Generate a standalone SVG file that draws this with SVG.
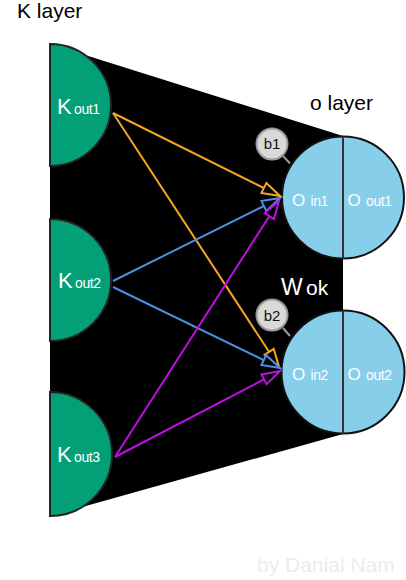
<svg xmlns="http://www.w3.org/2000/svg" width="406" height="580" viewBox="0 0 406 580">
<style>
text{font-family:"Liberation Sans",Arial,sans-serif}
.title{font-size:21px;fill:#000}
.k{fill:#03A077;stroke:#222;stroke-width:2}
.o{fill:#87CEEB;stroke:#111;stroke-width:2}
.div{stroke:#333;stroke-width:2}
.wl{fill:#fff}
.big{font-size:22px}
.sub{font-size:14px;letter-spacing:-0.4px}
.obig{font-size:17px}
.badge{fill:#d9d9d9;stroke:#999;stroke-width:2}
.bl{stroke:#999;stroke-width:2}
.bt{font-size:15px;fill:#111;text-anchor:middle}
.c{fill:none;stroke-width:2}
</style>
<defs>
<marker id="aO" markerUnits="userSpaceOnUse" viewBox="0 0 24 14" markerWidth="24" markerHeight="14" refX="20" refY="7" orient="auto" overflow="visible"><path d="M2,1.5 L20,7 L2,12.5 Z" fill="#000" stroke="#F5A623" stroke-width="2"/></marker>
<marker id="aB" markerUnits="userSpaceOnUse" viewBox="0 0 24 14" markerWidth="24" markerHeight="14" refX="20" refY="7" orient="auto" overflow="visible"><path d="M2,1.5 L20,7 L2,12.5 Z" fill="#000" stroke="#4A90E2" stroke-width="2"/></marker>
<marker id="aP" markerUnits="userSpaceOnUse" viewBox="0 0 24 14" markerWidth="24" markerHeight="14" refX="20" refY="7" orient="auto" overflow="visible"><path d="M2,1.5 L20,7 L2,12.5 Z" fill="#000" stroke="#BD10E0" stroke-width="2"/></marker>
</defs>
<rect width="406" height="580" fill="#fff"/>
<polygon id="background" points="50,44 343,136 343,434 50,516" fill="#000"/>
<text class="title" x="17" y="18">K layer</text>
<text class="title" x="310" y="110">o layer</text>
<text x="281" y="295" style="fill:#fff"><tspan style="font-size:23px">W</tspan><tspan x="306" style="font-size:21px">ok</tspan></text>
<g id="K1"><path class="k" d="M50,44 A61,61 0 0 1 50,166 Z"/><text class="wl" y="114"><tspan class="big" x="57">K</tspan><tspan class="sub" x="74">out1</tspan></text></g>
<g id="K2"><path class="k" d="M50,219 A61,61 0 0 1 50,341 Z"/><text class="wl" y="288"><tspan class="big" x="58">K</tspan><tspan class="sub" x="75">out2</tspan></text></g>
<g id="K3"><path class="k" d="M50,392 A62,62 0 0 1 50,516 Z"/><text class="wl" y="462"><tspan class="big" x="57">K</tspan><tspan class="sub" x="74">out3</tspan></text></g>
<g id="O1"><circle class="o" cx="343" cy="197.5" r="61"/><line class="div" x1="343" y1="136.5" x2="343" y2="258.5"/><text class="wl" y="206"><tspan class="obig" x="292">O</tspan><tspan class="sub" x="310.5">in1</tspan><tspan class="obig" x="347.5">O</tspan><tspan class="sub" x="366">out1</tspan></text></g>
<g id="O2"><circle class="o" cx="343" cy="372" r="61.5"/><line class="div" x1="343" y1="310.5" x2="343" y2="433.5"/><text class="wl" y="380"><tspan class="obig" x="292">O</tspan><tspan class="sub" x="310.5">in2</tspan><tspan class="obig" x="347.5">O</tspan><tspan class="sub" x="366">out2</tspan></text></g>
<g id="b1"><line class="bl" x1="283" y1="156" x2="290" y2="163.5"/><circle class="badge" cx="272" cy="144" r="15.5"/><text class="bt" x="272" y="149">b1</text></g>
<g id="b2"><line class="bl" x1="283" y1="328" x2="290" y2="336"/><circle class="badge" cx="272" cy="315" r="15.5"/><text class="bt" x="272" y="320.5">b2</text></g>
<g id="connectors">
<line class="c" stroke="#F5A623" x1="113" y1="113" x2="280" y2="196" marker-end="url(#aO)"/>
<line class="c" stroke="#F5A623" x1="113" y1="113" x2="279" y2="367" marker-end="url(#aO)"/>
<line class="c" stroke="#4A90E2" x1="113" y1="281" x2="280" y2="198" marker-end="url(#aB)"/>
<line class="c" stroke="#4A90E2" x1="113" y1="287" x2="280" y2="368" marker-end="url(#aB)"/>
<line class="c" stroke="#BD10E0" x1="115" y1="457" x2="279" y2="201" marker-end="url(#aP)"/>
<line class="c" stroke="#BD10E0" x1="115" y1="457" x2="280" y2="371" marker-end="url(#aP)"/>
</g>
<text x="257" y="572" style="font-size:21px;fill:#ececec">by Danial Nam</text>
</svg>
